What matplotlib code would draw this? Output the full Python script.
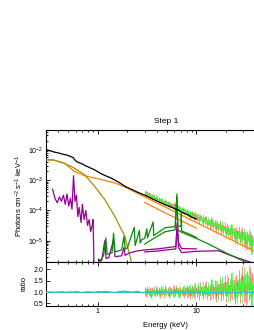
import numpy as np
import matplotlib
matplotlib.use("Agg")
import matplotlib.pyplot as plt
from matplotlib.ticker import LogLocator, NullFormatter, FixedLocator, FormatStrFormatter

plt.rcParams['font.family'] = ['Liberation Sans', 'DejaVu Sans']
plt.rcParams['mathtext.fontset'] = 'custom'
plt.rcParams['mathtext.rm'] = 'Liberation Sans'
plt.rcParams['mathtext.it'] = 'Liberation Sans'

# ---------------- data ----------------
# XMM (black) spectrum, keV and photons cm^-2 s^-1 keV^-1
xmm_E = [0.30, 0.33, 0.36, 0.40, 0.44, 0.48, 0.52, 0.55, 0.57, 0.59, 0.62, 0.66, 0.70,
         0.75, 0.80, 0.86, 0.93, 1.0, 1.1, 1.2, 1.35, 1.5, 1.7, 1.9, 2.2, 2.5, 2.8,
         3.2, 3.7, 4.2, 4.8, 5.5, 6.2, 6.6, 7.2, 8.0, 9.0, 10.0]
xmm_flux = [1.02e-2, 9.3e-3, 8.5e-3, 7.9e-3, 7.2e-3, 6.8e-3, 6.2e-3, 5.75e-3, 5.4e-3,
            4.6e-3, 4.0e-3, 3.7e-3, 3.4e-3, 3.0e-3, 2.75e-3, 2.45e-3, 2.2e-3, 1.9e-3,
            1.6e-3, 1.4e-3, 1.2e-3, 1.0e-3, 7.9e-4, 6.2e-4, 5.0e-4, 4.1e-4, 3.5e-4,
            2.9e-4, 2.3e-4, 1.9e-4, 1.55e-4, 1.32e-4, 1.1e-4, 1.02e-4, 8.6e-5, 7.5e-5,
            6.0e-5, 5.2e-5]
xmm_ratio = [1.00, 1.01, 0.99, 1.00, 1.02, 0.98, 1.01, 1.00, 0.99, 1.01, 1.02, 0.99, 0.98,
             1.00, 1.01, 1.00, 0.99, 1.02, 1.01, 1.03, 1.00, 0.98, 1.02, 1.04, 0.99, 1.03,
             0.97, 1.01, 0.98, 1.02, 1.00, 0.97, 1.03, 0.99, 1.01, 0.98, 1.02, 1.00]

# power-law / soft excess component (orange)
pl_E = [0.30, 0.37, 0.46, 0.58, 0.74, 0.93, 1.18, 1.49, 1.88, 3.0, 5.0, 10.0, 20.0, 40.0, 80.0]
pl_flux = [4.7e-3, 4.5e-3, 3.6e-3, 1.95e-3, 1.4e-3, 1.17e-3, 9.8e-4, 8.1e-4, 6.0e-4,
           2.8e-4, 1.23e-4, 4.0e-5, 1.32e-5, 4.3e-6, 1.38e-6]
pl2_E = [3.0, 5.0, 10.0]
pl2_flux = [1.82e-4, 7.9e-5, 2.6e-5]

# thermal component (olive)
bb_E = [0.30, 0.35, 0.46, 0.58, 0.74, 0.93, 1.18, 1.49, 1.88, 2.2]
bb_flux = [4.6e-3, 4.7e-3, 3.6e-3, 2.5e-3, 1.5e-3, 6.3e-4, 2.3e-4, 6.5e-5, 1.45e-5, 2.0e-6]

# photo-ionised component (purple), XMM band
ion_E = [0.35, 0.37, 0.39, 0.41, 0.43, 0.45, 0.47, 0.49, 0.51, 0.53, 0.55, 0.57, 0.59,
         0.61, 0.63, 0.65, 0.68, 0.70, 0.73, 0.76, 0.79, 0.82, 0.85, 0.88, 0.90, 0.92,
         1.0, 1.05, 1.1, 1.18, 1.22, 1.3, 1.45, 1.5, 1.75, 1.85, 1.9, 2.1, 2.5, 3.0,
         4.0, 5.0, 6.2, 6.4, 6.6, 7.1, 8.0, 10.0]
ion_flux = [5.0e-4, 2.5e-4, 1.8e-4, 2.8e-4, 2.0e-4, 3.2e-4, 1.6e-4, 3.5e-4, 1.4e-4,
            2.5e-4, 1.1e-4, 1.4e-3, 2.0e-4, 3.2e-4, 6.3e-5, 1.26e-4, 4.0e-5, 1.6e-4,
            5.0e-5, 1.0e-4, 3.2e-5, 5.0e-5, 2.0e-5, 3.2e-5, 5.0e-5, 1.2e-6,
            1.5e-6, 2.4e-6, 2.2e-6, 1.0e-5, 2.6e-6, 2.8e-6, 1.1e-5, 3.0e-6, 3.2e-6,
            6.0e-6, 3.3e-6, 4.0e-6, 4.6e-6, 5.0e-6, 5.4e-6, 5.9e-6, 6.5e-6, 4.0e-5,
            8.7e-6, 5.5e-6, 5.5e-6, 5.4e-6]
# photo-ionised component (purple), NuSTAR band
ion2_E = [3.0, 4.0, 5.0, 6.2, 6.4, 6.6, 7.1, 10.0, 16.8, 22.8, 35.0, 50.0]
ion2_flux = [4.3e-6, 4.6e-6, 5.0e-6, 5.4e-6, 3.5e-5, 6.0e-6, 4.1e-6, 4.5e-6, 4.7e-6,
             3.2e-6, 2.0e-6, 1.0e-6]

# reflection component (dark green), XMM band
refl_E = [1.05, 1.15, 1.21, 1.25, 1.40, 1.45, 1.50, 1.75, 1.85, 1.90, 2.0, 2.35, 2.40,
          2.65, 2.70, 2.8, 3.0, 3.15, 3.2, 3.65, 3.70, 4.85, 6.1, 6.35, 6.5, 7.0, 7.05,
          7.1, 8.0, 10.0]
refl_flux = [2.0e-6, 3.3e-6, 1.25e-5, 3.6e-6, 4.0e-6, 1.8e-5, 4.3e-6, 5.0e-6, 1.4e-5,
             5.4e-6, 5.8e-6, 2.8e-5, 7.0e-6, 2.2e-5, 8.5e-6, 1.1e-5, 1.2e-5, 2.5e-5,
             1.25e-5, 4.2e-5, 1.5e-5, 2.7e-5, 2.95e-5, 3.5e-4, 3.0e-5, 3.0e-5, 8.0e-5,
             2.1e-5, 1.8e-5, 1.3e-5]
# reflection component (dark green), NuSTAR band
refl2_E = [3.0, 4.0, 4.85, 6.1, 6.35, 6.5, 7.1, 10.0, 13.3, 21.3, 31.6, 45.0]
refl2_flux = [7.8e-6, 1.4e-5, 2.0e-5, 2.3e-5, 2.8e-4, 2.3e-5, 1.9e-5, 1.2e-5, 7.8e-6,
              3.6e-6, 2.0e-6, 1.0e-6]

# NuSTAR spectra: bin energies, total model, data/model ratios, fractional errors
nu_E = [3.00, 3.09, 3.18, 3.28, 3.38, 3.48, 3.58, 3.69, 3.80, 3.92,
        4.03, 4.15, 4.28, 4.41, 4.54, 4.68, 4.82, 4.96, 5.11, 5.26,
        5.42, 5.59, 5.75, 5.93, 6.11, 6.29, 6.48, 6.67, 6.87, 7.08,
        7.29, 7.51, 7.73, 7.97, 8.20, 8.45, 8.70, 8.97, 9.24, 9.51,
        9.80, 10.1, 10.4, 10.7, 11.0, 11.4, 11.7, 12.1, 12.4, 12.8,
        13.2, 13.6, 14.0, 14.4, 14.8, 15.3, 15.7, 16.2, 16.7, 17.2,
        17.7, 18.2, 18.8, 19.3, 19.9, 20.5, 21.1, 21.8, 22.4, 23.1,
        23.8, 24.5, 25.2, 26.0, 26.8, 27.6, 28.4, 29.2, 30.1, 31.0,
        31.9, 32.9, 33.9, 34.9, 35.9, 37.0, 38.1, 39.3, 40.4, 41.6]
nu_model = [3.80e-4, 3.63e-4, 3.47e-4, 3.32e-4, 3.17e-4, 3.03e-4, 2.90e-4, 2.77e-4, 2.65e-4, 2.53e-4,
            2.42e-4, 2.31e-4, 2.21e-4, 2.11e-4, 2.02e-4, 1.93e-4, 1.84e-4, 1.76e-4, 1.68e-4, 1.61e-4,
            1.54e-4, 1.47e-4, 1.41e-4, 1.37e-4, 1.42e-4, 1.38e-4, 1.30e-4, 1.18e-4, 1.07e-4, 1.02e-4,
            9.79e-5, 9.35e-5, 8.94e-5, 8.55e-5, 8.17e-5, 7.81e-5, 7.46e-5, 7.13e-5, 6.82e-5, 6.51e-5,
            6.23e-5, 5.95e-5, 5.69e-5, 5.44e-5, 5.20e-5, 4.97e-5, 4.75e-5, 4.54e-5, 4.34e-5, 4.14e-5,
            3.96e-5, 3.79e-5, 3.62e-5, 3.46e-5, 3.30e-5, 3.16e-5, 3.02e-5, 2.89e-5, 2.76e-5, 2.64e-5,
            2.52e-5, 2.41e-5, 2.30e-5, 2.20e-5, 2.10e-5, 2.01e-5, 1.92e-5, 1.84e-5, 1.76e-5, 1.68e-5,
            1.60e-5, 1.53e-5, 1.47e-5, 1.40e-5, 1.34e-5, 1.28e-5, 1.22e-5, 1.17e-5, 1.12e-5, 1.07e-5,
            1.02e-5, 9.76e-6, 9.33e-6, 8.92e-6, 8.52e-6, 8.15e-6, 7.79e-6, 7.44e-6, 7.11e-6, 6.80e-6]
fpma_ratio = [1.08, 0.92, 1.12, 0.97, 1.05, 0.88, 1.10, 1.02, 0.94, 1.13,
              0.96, 1.07, 0.90, 1.11, 1.00, 0.93, 1.15, 0.98, 1.06, 0.89,
              1.09, 1.01, 0.94, 1.14, 0.97, 1.18, 1.03, 0.91, 1.08, 0.99,
              1.12, 0.90, 1.05, 1.16, 0.95, 1.07, 0.87, 1.13, 1.02, 0.94,
              1.19, 0.98, 1.10, 0.86, 1.22, 1.04, 0.93, 1.15, 1.27, 0.96,
              1.08, 0.89, 1.31, 1.12, 0.97, 1.24, 0.85, 1.18, 1.05, 1.36,
              0.92, 1.20, 1.10, 1.42, 0.88, 1.15, 1.30, 0.95, 1.48, 1.08,
              1.22, 0.84, 1.38, 1.12, 1.55, 0.96, 1.28, 1.70, 1.02, 1.35,
              0.90, 1.45, 1.15, 1.62, 0.88, 1.30, 1.05, 1.50, 1.20, 0.95]
fpmb_ratio = [0.95, 1.06, 0.99, 1.10, 0.91, 1.04, 0.97, 1.12, 0.93, 1.01,
              1.09, 0.94, 1.05, 0.98, 1.13, 0.90, 1.03, 1.08, 0.95, 1.11,
              0.97, 1.06, 1.15, 0.92, 1.04, 1.10, 0.96, 1.13, 0.93, 1.07,
              0.98, 1.14, 1.03, 0.91, 1.10, 1.00, 1.17, 0.94, 1.08, 1.21,
              0.95, 1.06, 1.24, 0.92, 1.12, 1.03, 1.28, 0.97, 1.09, 0.90,
              1.20, 1.06, 0.94, 1.33, 1.10, 1.00, 1.25, 1.15, 0.92, 1.30,
              1.12, 1.40, 0.98, 1.18, 1.05, 1.45, 0.90, 1.28, 1.16, 1.52,
              1.00, 1.32, 1.10, 0.88, 1.58, 1.20, 1.42, 0.98, 1.65, 1.12,
              1.35, 1.02, 1.75, 1.18, 1.40, 0.92, 1.60, 1.25, 1.08, 1.50]
nu_err = [0.13, 0.13, 0.13, 0.13, 0.13, 0.13, 0.13, 0.13, 0.13, 0.13,
          0.14, 0.14, 0.14, 0.14, 0.14, 0.14, 0.14, 0.14, 0.14, 0.14,
          0.15, 0.15, 0.15, 0.15, 0.15, 0.15, 0.16, 0.16, 0.16, 0.16,
          0.16, 0.17, 0.17, 0.17, 0.17, 0.18, 0.18, 0.18, 0.19, 0.19,
          0.19, 0.20, 0.20, 0.21, 0.21, 0.22, 0.22, 0.23, 0.23, 0.24,
          0.24, 0.25, 0.25, 0.26, 0.26, 0.27, 0.27, 0.28, 0.29, 0.29,
          0.30, 0.31, 0.31, 0.32, 0.33, 0.33, 0.34, 0.35, 0.36, 0.37,
          0.37, 0.38, 0.39, 0.40, 0.41, 0.42, 0.43, 0.44, 0.45, 0.46,
          0.47, 0.48, 0.49, 0.50, 0.51, 0.52, 0.53, 0.54, 0.55, 0.56]

title = "Step 1"
xlabel = "Energy (keV)"
ylabel_top = "Photons cm$^{-2}$ s$^{-1}$ keV$^{-1}$"
ylabel_bot = "ratio"
xlim = (0.3, 80.0)
ylim_top = (2.0e-6, 4.5e-2)
ylim_bot = (0.4, 2.32)
ratio_ticks = [0.5, 1.0, 1.5, 2.0]

# ---------------- colours ----------------
C_BLACK = "#000000"
C_ORANGE = "#ff8000"
C_OLIVE = "#9a9600"
C_PURPLE = "#960096"
C_DGREEN = "#0a8a0a"
C_LGREEN = "#33ff33"
C_RED = "#ff3a3a"
C_TEAL = "#30c0c0"

# ---------------- figure ----------------
W, H = 255, 330
fig = plt.figure(figsize=(W / 100, H / 100), dpi=100)
left = 46 / W
right = 285.5 / W
ax1 = fig.add_axes([left, 1 - 262 / H, right - left, (262 - 130) / H])
ax2 = fig.add_axes([left, 1 - 305.7 / H, right - left, (305.7 - 262) / H], sharex=ax1)

lw = 0.9

nu_E_a = np.array(nu_E)
nu_m = np.array(nu_model)
ra = np.array(fpma_ratio)
rb = np.array(fpmb_ratio)
er = np.array(nu_err)


def draw_data(ax, x, y, yerr, color, alpha, z):
    ax.errorbar(x, y, yerr=yerr, fmt='none', ecolor=color, elinewidth=0.7,
                alpha=alpha, zorder=z)
    ax.plot(x, y, color=color, lw=0.7, alpha=alpha, drawstyle='steps-mid', zorder=z)


# NuSTAR data (red, then green on top)
fa = nu_m * ra
fb = nu_m * rb
draw_data(ax1, nu_E_a, fa, fa * er, C_RED, 0.6, 2)
draw_data(ax1, nu_E_a, fb, fb * er, C_LGREEN, 0.7, 3)

# components
ax1.plot(pl_E, pl_flux, color=C_ORANGE, lw=lw, zorder=4)
ax1.plot(pl2_E, pl2_flux, color=C_ORANGE, lw=lw, zorder=4)
ax1.plot(bb_E, bb_flux, color=C_OLIVE, lw=lw, zorder=4)
ax1.plot(ion_E, ion_flux, color=C_PURPLE, lw=lw, zorder=4)
ax1.plot(ion2_E, ion2_flux, color=C_PURPLE, lw=lw, zorder=4)
ax1.plot(refl_E, refl_flux, color=C_DGREEN, lw=lw, zorder=4)
ax1.plot(refl2_E, refl2_flux, color=C_DGREEN, lw=lw, zorder=4)
ax1.plot(xmm_E, xmm_flux, color=C_BLACK, lw=lw, zorder=5)

ax1.set_xscale('log')
ax1.set_yscale('log')
ax1.set_xlim(*xlim)
ax1.set_ylim(*ylim_top)
ax1.yaxis.set_major_locator(LogLocator(base=10, numticks=20))
ax1.yaxis.set_minor_locator(LogLocator(base=10, subs=np.arange(2, 10), numticks=20))
ax1.yaxis.set_minor_formatter(NullFormatter())
ax1.set_ylabel(ylabel_top, fontsize=5.5, labelpad=2)
ax1.set_title(title, fontsize=6, pad=5)
plt.setp(ax1.get_xticklabels(), visible=False)

# ratio panel
draw_data(ax2, nu_E_a, ra, er, C_RED, 0.6, 2)
draw_data(ax2, nu_E_a, rb, er, C_LGREEN, 0.7, 3)
ax2.plot(xmm_E, xmm_ratio, color=C_TEAL, lw=lw, zorder=4)
ax2.axhline(1.0, color=C_TEAL, lw=0.8, zorder=5)
ax2.set_ylim(*ylim_bot)
ax2.yaxis.set_major_locator(FixedLocator(ratio_ticks))
ax2.yaxis.set_major_formatter(FormatStrFormatter('%.1f'))
ax2.set_ylabel(ylabel_bot, fontsize=5.5, labelpad=4)
ax2.set_xlabel(xlabel, fontsize=5.5, labelpad=5)
ax2.xaxis.set_major_formatter(FormatStrFormatter('%g'))
ax2.xaxis.set_minor_formatter(NullFormatter())

for ax in (ax1, ax2):
    ax.tick_params(which='both', direction='in', top=True, right=True, labelsize=5,
                   width=0.6, pad=2)
    ax.tick_params(which='major', length=3)
    ax.tick_params(which='minor', length=1.5)
    for s in ax.spines.values():
        s.set_linewidth(0.8)

fig.savefig("out.png", dpi=100)
